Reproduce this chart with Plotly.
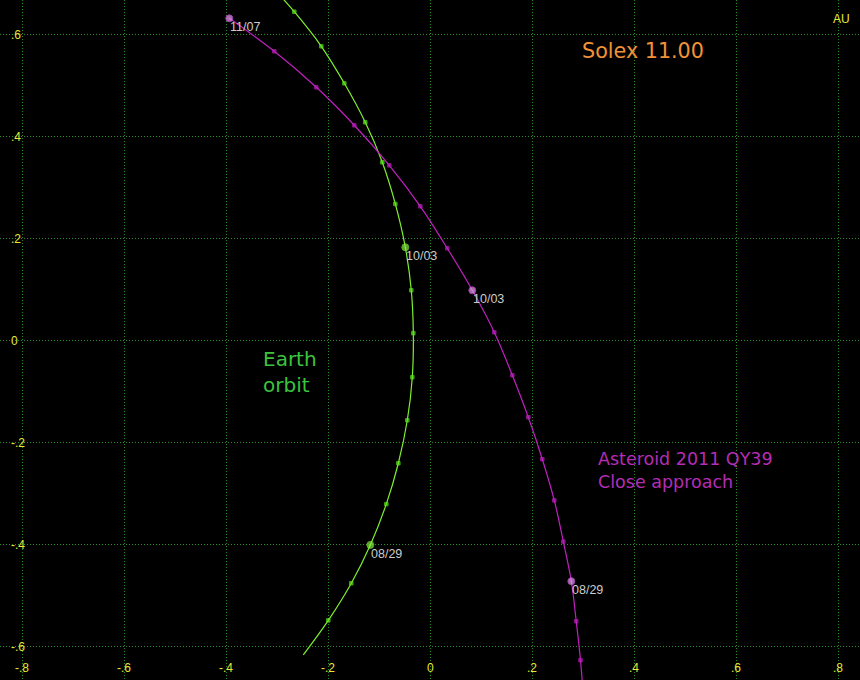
import plotly.graph_objects as go

# 5-day positions (AU), 08/14 .. 11/07
dates = ["08/14", "08/19", "08/24", "08/29", "09/03", "09/08", "09/13", "09/18", "09/23",
         "09/28", "10/03", "10/08", "10/13", "10/18", "10/23", "10/28", "11/02", "11/07"]

earth_x = [-0.2490, -0.2000, -0.1549, -0.1176, -0.0863, -0.0627, -0.0451, -0.0353, -0.0333,
           -0.0373, -0.0490, -0.0686, -0.0941, -0.1275, -0.1686, -0.2137, -0.2667, -0.3261]
earth_y = [-0.6171, -0.5494, -0.4765, -0.4014, -0.3214, -0.2412, -0.1569, -0.0725, 0.0139,
           0.0980, 0.1824, 0.2673, 0.3490, 0.4275, 0.5039, 0.5765, 0.6443, 0.7104]

ast_x = [0.3004, 0.2945, 0.2861, 0.2765, 0.2608, 0.2431, 0.2196, 0.1922, 0.1608,
         0.1255, 0.0824, 0.0333, -0.0196, -0.0804, -0.1490, -0.2235, -0.3059, -0.3941]
ast_y = [-0.7033, -0.6275, -0.5510, -0.4725, -0.3949, -0.3141, -0.2333, -0.1510, -0.0686,
         0.0157, 0.0980, 0.1804, 0.2627, 0.3431, 0.4216, 0.4961, 0.5667, 0.6314]

labeled_dates = ["08/29", "10/03", "11/07"]

x_ticks = [-0.8, -0.6, -0.4, -0.2, 0.0, 0.2, 0.4, 0.6, 0.8]
x_tick_labels = ["-.8", "-.6", "-.4", "-.2", "0", ".2", ".4", ".6", ".8"]
y_ticks = [-0.6, -0.4, -0.2, 0.0, 0.2, 0.4, 0.6]
y_tick_labels = ["-.6", "-.4", "-.2", "0", ".2", ".4", ".6"]

X_RANGE = [-0.8437, 0.8425]
Y_RANGE = [-0.6663, 0.6673]
W, H = 860, 680

fig = go.Figure()


def add_body(xs, ys, line_col, small_col, big_col, big_line):
    sizes, symbols, colors, lcols = [], [], [], []
    for i, d in enumerate(dates):
        if i == 0:
            sizes.append(0); symbols.append("square"); colors.append(small_col); lcols.append(small_col)
        elif d in labeled_dates:
            sizes.append(7); symbols.append("circle"); colors.append(big_col); lcols.append(big_line)
        else:
            sizes.append(3.5); symbols.append("square"); colors.append(small_col); lcols.append(small_col)
    fig.add_trace(go.Scatter(
        x=xs, y=ys, mode="lines+markers",
        line=dict(color=line_col, width=1.2, shape="spline", smoothing=1.0),
        marker=dict(size=sizes, symbol=symbols, color=colors,
                    line=dict(color=lcols, width=1)),
        hoverinfo="skip", showlegend=False))
    for x, y, d in zip(xs, ys, dates):
        if d in labeled_dates and X_RANGE[0] <= x <= X_RANGE[1] and Y_RANGE[0] <= y <= Y_RANGE[1]:
            fig.add_annotation(x=x, y=y, text=d, showarrow=False, xanchor="left", yanchor="top",
                               xshift=-1, yshift=0,
                               font=dict(family="Liberation Sans, Arial", size=12.5, color="#cccccc"))


add_body(earth_x, earth_y, "#7ef02e", "#5ee81e", "#84f040", "#84f040")
add_body(ast_x, ast_y, "#c020c0", "#c020c0", "#ee9af6", "#d060e0")

tick_font = dict(family="Liberation Sans, Arial", size=12, color="#e8e838")
for v, t in zip(y_ticks, y_tick_labels):
    fig.add_annotation(x=10 / W, xref="paper", y=v, yref="y", text=t, showarrow=False,
                       xanchor="left", yanchor="middle", xshift=-1, yshift=-1, font=tick_font)
for v, t in zip(x_ticks, x_tick_labels):
    fig.add_annotation(x=v, xref="x", y=(H - 667.5) / H, yref="paper", text=t, showarrow=False,
                       xanchor="center", yanchor="middle", font=tick_font)

fig.add_annotation(x=841.5 / W, xref="paper", y=1 - 18.5 / H, yref="paper", text="AU",
                   showarrow=False, xanchor="center", yanchor="middle", font=tick_font)

fig.add_annotation(x=(581.7 - 2) / W, xref="paper", y=1 - 50.8 / H, yref="paper", text="Solex 11.00",
                   showarrow=False, xanchor="left", yanchor="middle",
                   font=dict(family="DejaVu Sans", size=20.7, color="#f39237"))
fig.add_annotation(x=(262.7 - 2) / W, xref="paper", y=1 - 372 / H, yref="paper", text="Earth<br>orbit",
                   showarrow=False, xanchor="left", yanchor="middle", align="left",
                   font=dict(family="DejaVu Sans", size=20, color="#3cc43c"))
fig.add_annotation(x=(598.3 - 2) / W, xref="paper", y=1 - 470.5 / H, yref="paper",
                   text="Asteroid 2011 QY39<br>Close approach",
                   showarrow=False, xanchor="left", yanchor="middle", align="left",
                   font=dict(family="DejaVu Sans", size=17.5, color="#b42db4"))

grid = dict(showgrid=True, gridcolor="#2a8c2a", gridwidth=1, griddash="1px,2px",
            zeroline=False, showticklabels=False, ticks="", showline=False)
fig.update_xaxes(range=X_RANGE, tickvals=x_ticks, **grid)
fig.update_yaxes(range=Y_RANGE, tickvals=y_ticks, **grid)

fig.update_layout(width=W, height=H, margin=dict(l=0, r=0, t=0, b=0),
                  paper_bgcolor="black", plot_bgcolor="black", hovermode=False)

fig.write_html("out.html", config={"displayModeBar": False, "staticPlot": True},
               post_script="document.body.style.margin='0';document.body.style.padding='0';"
                           "document.body.style.overflow='hidden';"
                           "document.body.style.background='black';")
